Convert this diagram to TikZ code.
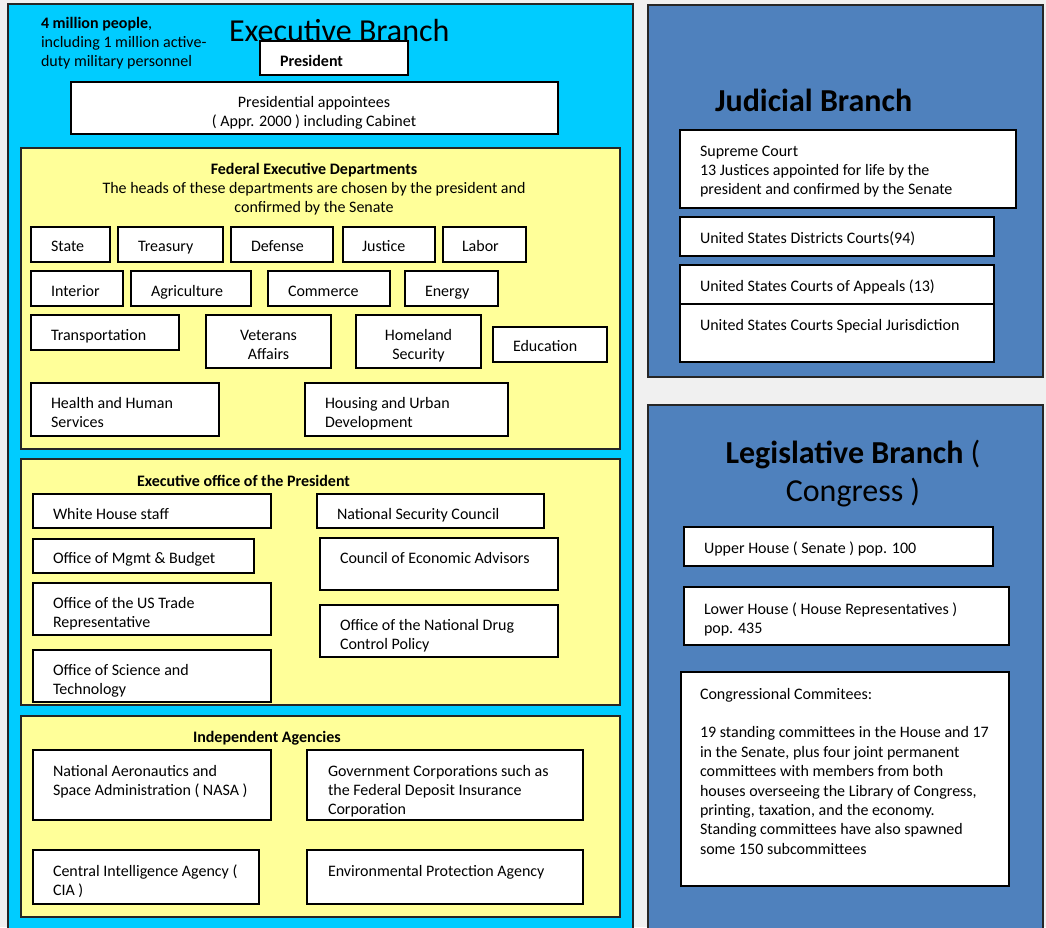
\documentclass[tikz,border=0pt]{standalone}
\usepackage{fontspec}
\setmainfont{Carlito}
\definecolor{bgray}{HTML}{F0F0F0}
\definecolor{execcyan}{HTML}{00CCFF}
\definecolor{deptyellow}{HTML}{FFFF99}
\definecolor{branchblue}{HTML}{4F81BD}
\newcommand{\bodyfont}{\fontsize{16}{19.4}\selectfont}
\newcommand{\mkbox}[6]{% style, name, x1, y1, x2, y2
  \node[#1, minimum width={(#5-#3)*1pt}, minimum height={(#6-#4)*1pt}] (#2) at ({(#3+#5)/2},{(#4+#6)/2}) {};}
\begin{document}
\begin{tikzpicture}[x=1pt,y=-1pt,
  wbox/.style={draw=black, fill=white, line width=1.6pt, inner sep=0pt, outer sep=0pt},
  ybox/.style={draw=black!85, fill=deptyellow, line width=1.6pt, inner sep=0pt, outer sep=0pt},
  branchc/.style={draw=black!85, fill=execcyan, line width=1.6pt, inner sep=0pt, outer sep=0pt},
  branchb/.style={draw=black!85, fill=branchblue, line width=1.6pt, inner sep=0pt, outer sep=0pt},
  txt/.style={font=\bodyfont, inner sep=0pt, outer sep=0pt, align=left, anchor=base west, yshift=-1pt},
  ctxt/.style={font=\bodyfont, inner sep=0pt, outer sep=0pt, align=center, anchor=base, yshift=-1pt},
  nl/.style={yshift={-(#1-1)*19.4pt}},
  bigtxt/.style={font=\fontsize{32}{38}\selectfont, inner sep=0pt, outer sep=0pt, anchor=base west}
]
\useasboundingbox (0,0) rectangle (1046,927);
\fill[bgray] (0,0) rectangle (1046,927);

% ===== Executive branch =====
\mkbox{branchc}{exec}{8}{4}{633}{940}
\node[bigtxt] (exectitle) at (229,41) {Executive Branch};
\node[txt, nl=3] (people) at (41,27) {\textbf{4 million people},\\including 1 million active-\\duty military personnel};

\mkbox{wbox}{pres}{260}{41}{408}{75}
\node[txt] (prestxt) at (280,65) {\textbf{President}};

\mkbox{wbox}{appt}{71}{82}{558}{134}
\node[ctxt, nl=2] (appttxt) at (314,106) {Presidential appointees\\( Appr. 2000 ) including Cabinet};

% Federal Executive Departments
\mkbox{ybox}{fed}{21}{148}{620}{449}
\node[ctxt, nl=3] (fedtitle) at (314,173) {\textbf{Federal Executive Departments}\\The heads of these departments are chosen by the president and\\confirmed by the Senate};

\mkbox{wbox}{state}{31}{227}{110}{262}
\node[txt] at (51,250) {State};
\mkbox{wbox}{treas}{118}{227}{223}{262}
\node[txt] at (138,250) {Treasury};
\mkbox{wbox}{def}{231}{227}{333}{262}
\node[txt] at (251,250) {Defense};
\mkbox{wbox}{just}{343}{227}{435}{262}
\node[txt] at (362,250) {Justice};
\mkbox{wbox}{labor}{443}{227}{526}{262}
\node[txt] at (462,250) {Labor};

\mkbox{wbox}{inter}{31}{271}{123}{306}
\node[txt] at (51,295) {Interior};
\mkbox{wbox}{agri}{131}{271}{251}{306}
\node[txt] at (151,295) {Agriculture};
\mkbox{wbox}{comm}{268}{271}{390}{306}
\node[txt] at (288,295) {Commerce};
\mkbox{wbox}{energy}{405}{271}{498}{306}
\node[txt] at (425,295) {Energy};

\mkbox{wbox}{trans}{31}{315}{179}{350}
\node[txt] at (51,339) {Transportation};
\mkbox{wbox}{vet}{206}{315}{331}{368}
\node[ctxt, nl=2] at (268.5,339) {Veterans\\Affairs};
\mkbox{wbox}{home}{356}{315}{481}{368}
\node[ctxt, nl=2] at (418.5,339) {Homeland\\Security};
\mkbox{wbox}{edu}{493}{327}{607}{362}
\node[txt] at (513,350) {Education};

\mkbox{wbox}{health}{31}{383}{219}{436}
\node[txt, nl=2] at (51,407) {Health and Human\\Services};
\mkbox{wbox}{housing}{305}{383}{508}{436}
\node[txt, nl=2] at (325,407) {Housing and Urban\\Development};

% Executive office of the President
\mkbox{ybox}{eop}{21}{459}{620}{705}
\node[txt] (eoptitle) at (137,485) {\textbf{Executive office of the President}};
\mkbox{wbox}{whs}{33}{494}{271}{528}
\node[txt] at (53,518) {White House staff};
\mkbox{wbox}{omb}{33}{539}{254}{573}
\node[txt] at (53,562) {Office of Mgmt \& Budget};
\mkbox{wbox}{ustr}{33}{583}{271}{635}
\node[txt, nl=2] at (53,607) {Office of the US Trade\\Representative};
\mkbox{wbox}{ost}{33}{650}{271}{702}
\node[txt, nl=2] at (53,674) {Office of Science and\\Technology};
\mkbox{wbox}{nsc}{317}{494}{544}{528}
\node[txt] at (337,518) {National Security Council};
\mkbox{wbox}{cea}{320}{538}{558}{590}
\node[txt] at (340,562) {Council of Economic Advisors};
\mkbox{wbox}{drug}{320}{605}{558}{657}
\node[txt, nl=2] at (340,629) {Office of the National Drug\\Control Policy};

% Independent Agencies
\mkbox{ybox}{ia}{21}{716}{620}{917}
\node[txt] (iatitle) at (193,741) {\textbf{Independent Agencies}};
\mkbox{wbox}{nasa}{33}{750}{271}{820}
\node[txt, nl=2] at (53,775) {National Aeronautics and\\Space Administration ( NASA )};
\mkbox{wbox}{gov}{307}{750}{583}{820}
\node[txt, nl=3] at (328,775) {Government Corporations such as\\the Federal Deposit Insurance\\Corporation};
\mkbox{wbox}{cia}{33}{850}{259}{904}
\node[txt, nl=2] at (53,875) {Central Intelligence Agency (\\CIA )};
\mkbox{wbox}{epa}{307}{850}{583}{904}
\node[txt] at (328,875) {Environmental Protection Agency};

% ===== Judicial branch =====
\mkbox{branchb}{jud}{648}{5}{1043}{377}
\node[bigtxt] (judtitle) at (715,111) {\textbf{Judicial Branch}};
\mkbox{wbox}{supreme}{680}{130}{1016}{208}
\node[txt, nl=3] at (700,155) {Supreme Court\\13 Justices appointed for life by the\\president and confirmed by the Senate};
\mkbox{wbox}{district}{680}{217}{994}{256}
\node[txt] at (700,242) {United States Districts Courts(94)};
\mkbox{wbox}{appeals}{680}{265}{994}{304}
\node[txt] at (700,290) {United States Courts of Appeals (13)};
\mkbox{wbox}{special}{680}{304}{994}{362}
\node[txt] at (700,329) {United States Courts Special Jurisdiction};

% ===== Legislative branch =====
\mkbox{branchb}{leg}{648}{405}{1043}{940}
\node[font=\fontsize{32}{38}\selectfont, inner sep=0pt, align=center, anchor=base, yshift=-38pt] (legtitle) at (853,463) {\textbf{Legislative Branch} (\\Congress )};
\mkbox{wbox}{upper}{684}{527}{993}{566}
\node[txt] at (704,552) {Upper House ( Senate ) pop. 100};
\mkbox{wbox}{lower}{684}{587}{1009}{645}
\node[txt, nl=2] at (704,613) {Lower House ( House Representatives )\\pop. 435};
\mkbox{wbox}{cttee}{681}{672}{1009}{886}
\node[txt, nl=9] at (700,698) {Congressional Commitees:\\[19.4pt]19 standing committees in the House and 17\\in the Senate, plus four joint permanent\\committees with members from both\\houses overseeing the Library of Congress,\\printing, taxation, and the economy.\\Standing committees have also spawned\\some 150 subcommittees};
\end{tikzpicture}
\end{document}
